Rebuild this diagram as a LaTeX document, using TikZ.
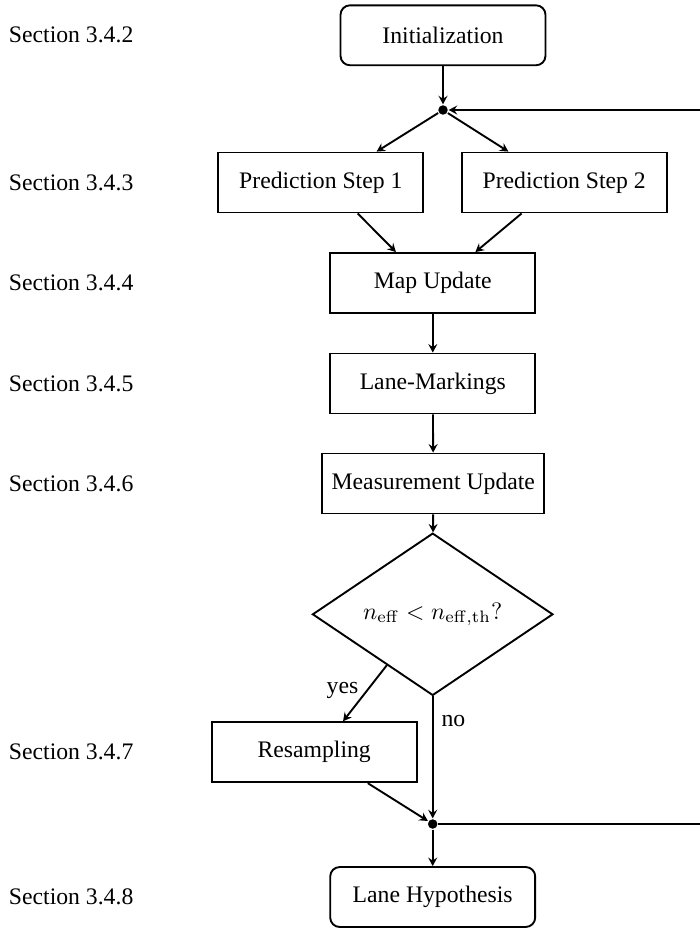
\documentclass[tikz,border=0pt]{standalone}
\usepackage{amsmath}
\usepackage[no-math]{fontspec}
\setmainfont{Liberation Serif}
\usetikzlibrary{shapes.geometric}
\usetikzlibrary{arrows.meta}

\begin{document}
\begin{tikzpicture}[x=0.422pt,y=-0.422pt,line width=0.8pt,
    >={Stealth[length=3.6pt,width=3.8pt,inset=1.3pt]},
    block/.style={draw,rectangle,minimum width=86.5pt,minimum height=25.3pt,inner sep=4pt},
    term/.style={block,rounded corners=4pt},
    decision/.style={draw,diamond,minimum width=101.5pt,minimum height=50.2pt,inner sep=0pt},
    dot/.style={circle,fill,inner sep=0pt,minimum size=4pt},
    sec/.style={anchor=west,inner sep=0pt}]
    % 画面范围
    \clip (0,0) rectangle (700,928);

    % 方框
    \node[term] (init) at (443,35.3) {Initialization};
    \node[dot] (j1) at (443,110) {};
    \node[block] (p1) at (320.8,182.5) {Prediction Step 1};
    \node[block] (p2) at (564.2,182.5) {Prediction Step 2};
    \node[block] (mu) at (432.8,283) {Map Update};
    \node[block] (lm) at (432.8,383.5) {Lane-Markings};
    \node[block] (meas) at (433.3,483.5) {Measurement Update};
    \node[decision] (neff) at (432.7,614.3) {$n_{\mathrm{eff}} < n_{\mathrm{eff},\mathrm{th}}?$};
    \node[block] (rs) at (314.2,752.2) {Resampling};
    \node[dot] (j2) at (432.7,824) {};
    \node[term] (hyp) at (432.7,897) {Lane Hypothesis};

    \node[sec] (s2) at (8,0 |- init) {Section 3.4.2};
    \node[sec] (s3) at (8,0 |- p1) {Section 3.4.3};
    \node[sec] (s4) at (8,0 |- mu) {Section 3.4.4};
    \node[sec] (s5) at (8,0 |- lm) {Section 3.4.5};
    \node[sec] (s6) at (8,0 |- meas) {Section 3.4.6};
    \node[sec] (s7) at (8,0 |- rs) {Section 3.4.7};
    \node[sec] (s8) at (8,0 |- hyp) {Section 3.4.8};

    % 箭头
    \draw[->] (init) -- (j1);
    \draw[->] (j1) -- (p1.29);
    \draw[->] (j1) -- (p2.151);
    \draw[->] (p1.-40) -- (mu.140);
    \draw[->] (p2.-144) -- (mu.36);
    \draw[->] (mu) -- (lm);
    \draw[->] (lm) -- (meas);
    \draw[->] (meas) -- (neff);
    \draw[->] (neff.228) -- node[pos=0.45,left] {yes} (rs.47);
    \draw[->] (neff) -- node[pos=0.2,right] {no} (j2);
    \draw[->] (rs.-30) -- (j2);
    \draw[->] (j2) -- (hyp);
    \draw[->] (j2) -- (720,824) -- (720,110) -- (j1);

\end{tikzpicture}
\end{document}
